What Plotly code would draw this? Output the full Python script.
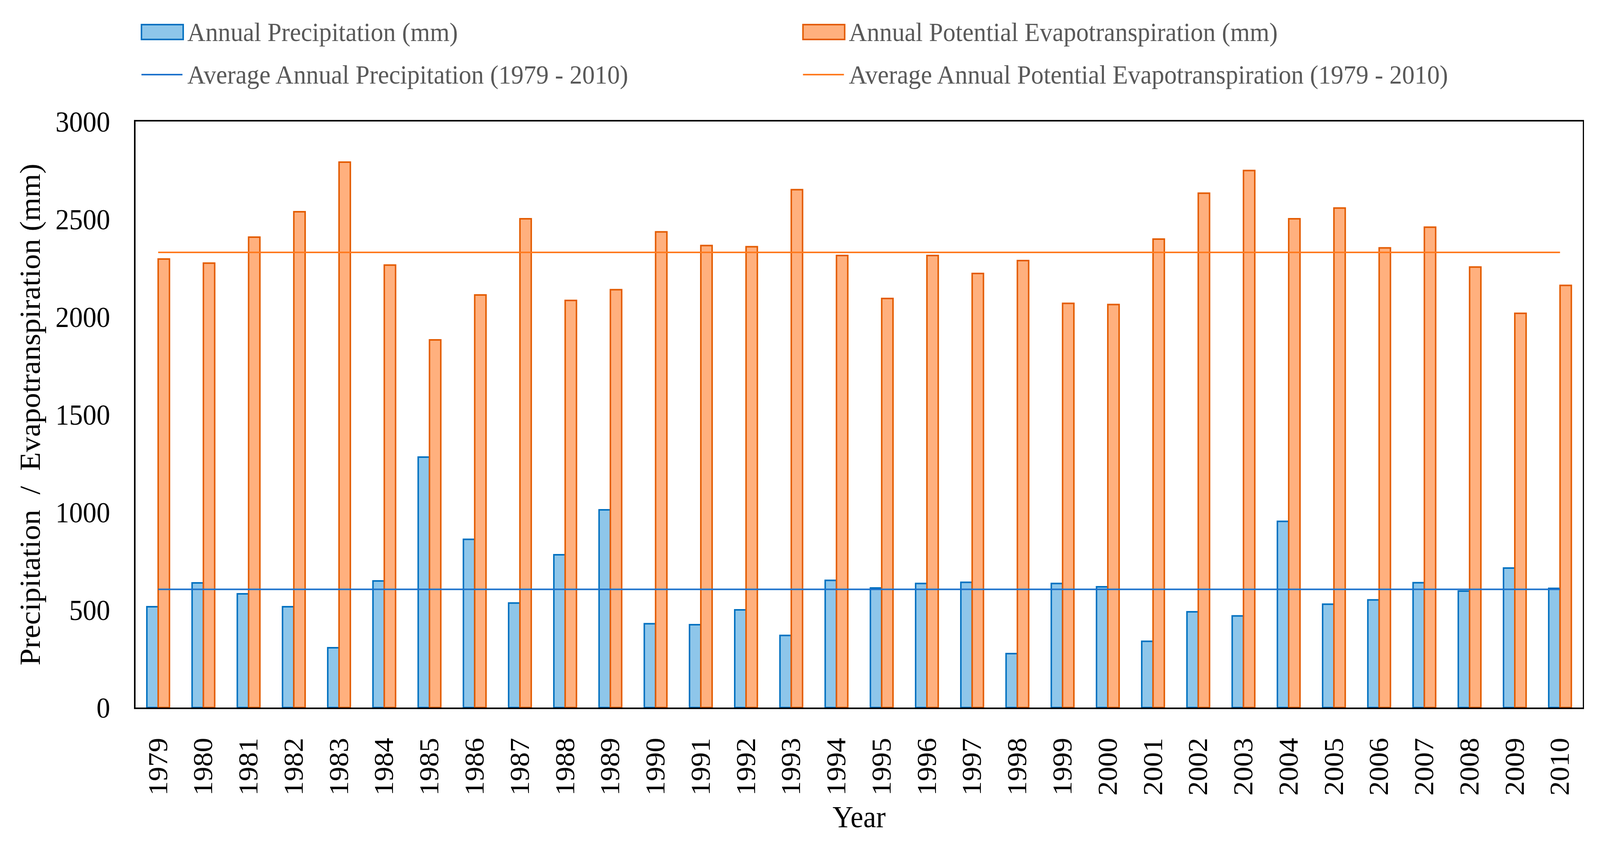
import plotly.graph_objects as go

# ---- data ----
years = [str(y) for y in range(1979, 2011)]
precipitation = [516, 638, 582, 516, 306, 648, 1282, 861, 535, 782, 1012, 429, 424, 500, 369, 651,
                 612, 635, 641, 276, 635, 618, 339, 490, 469, 953, 529, 551, 639, 596, 714, 610]
pet = [2296, 2275, 2408, 2538, 2792, 2265, 1882, 2112, 2502, 2084, 2139, 2435, 2365, 2359, 2651, 2314,
       2094, 2314, 2222, 2288, 2069, 2063, 2398, 2633, 2749, 2502, 2557, 2353, 2459, 2255, 2018, 2161]
avg_precipitation = 605
avg_pet = 2330
y_ticks = [0, 500, 1000, 1500, 2000, 2500, 3000]

names = ["Annual Precipitation (mm)",
         "Annual Potential Evapotranspiration (mm)",
         "Average Annual Precipitation (1979 - 2010)",
         "Average Annual Potential Evapotranspiration (1979 - 2010)"]

# ---- styling ----
W, H = 4332, 2168
L, R, T, B = 367, 47, 311, 357
FONT = "Liberation Serif"
BLUE_FILL, BLUE_LINE = "#8EC6EA", "#0070C0"
OR_FILL, OR_LINE = "#FFB07E", "#E35B00"
AVG_BLUE, AVG_OR = "#1C72CC", "#FF7A1F"

fig = go.Figure()
fig.add_trace(go.Bar(x=years, y=precipitation, name=names[0],
                     marker=dict(color=BLUE_FILL, line=dict(color=BLUE_LINE, width=4)),
                     showlegend=False))
fig.add_trace(go.Bar(x=years, y=pet, name=names[1],
                     marker=dict(color=OR_FILL, line=dict(color=OR_LINE, width=4)),
                     showlegend=False))
fig.add_trace(go.Scatter(x=[years[0], years[-1]], y=[avg_precipitation, avg_precipitation],
                         mode="lines", name=names[2], line=dict(color=AVG_BLUE, width=4),
                         showlegend=False))
fig.add_trace(go.Scatter(x=[years[0], years[-1]], y=[avg_pet, avg_pet],
                         mode="lines", name=names[3], line=dict(color=AVG_OR, width=4),
                         showlegend=False))

# ---- manual legend (pixel positions converted to paper coords) ----
def px_x(px):
    return (px - L) / (W - L - R)

def px_y(py):
    return (H - B - py) / (H - T - B)

shapes = []
annotations = []
legend_cols = [383, 2174]
legend_rows = [82, 191]
items = [(0, 0, "bar", BLUE_FILL, BLUE_LINE),
         (0, 1, "bar", OR_FILL, OR_LINE),
         (1, 0, "line", None, AVG_BLUE),
         (1, 1, "line", None, AVG_OR)]
for k, (row, col, kind, fill, line) in enumerate(items):
    x0 = legend_cols[col]
    yc = legend_rows[row]
    if kind == "bar":
        shapes.append(dict(type="rect", xref="paper", yref="paper",
                           x0=px_x(x0), x1=px_x(x0 + 113), y0=px_y(yc + 19), y1=px_y(yc - 19),
                           fillcolor=fill, line=dict(color=line, width=4)))
    else:
        shapes.append(dict(type="line", xref="paper", yref="paper",
                           x0=px_x(x0), x1=px_x(x0 + 111), y0=px_y(yc), y1=px_y(yc),
                           line=dict(color=line, width=4)))
    annotations.append(dict(xref="paper", yref="paper", x=px_x(x0 + 122), y=px_y(yc),
                            xanchor="left", yanchor="middle", showarrow=False,
                            text=names[k],
                            font=dict(family=FONT, size=68, color="#595959")))

fig.update_layout(
    width=W, height=H, autosize=False,
    margin=dict(l=L, r=R, t=T, b=B),
    paper_bgcolor="white", plot_bgcolor="white",
    barmode="group", bargap=0.5, bargroupgap=0,
    font=dict(family=FONT, color="black"),
    shapes=shapes, annotations=annotations,
    xaxis=dict(type="category", tickangle=-90, showgrid=False, ticks="",
               tickfont=dict(family=FONT, size=74, color="black"),
               ticklabelstandoff=44,
               showline=True, linecolor="black", linewidth=4, mirror=True,
               title=dict(text="Year", font=dict(family=FONT, size=78, color="black"), standoff=28)),
    yaxis=dict(range=[0, 3000], tickvals=y_ticks, showgrid=False, zeroline=False, ticks="",
               tickfont=dict(family=FONT, size=74, color="black"),
               ticklabelstandoff=50,
               showline=True, linecolor="black", linewidth=4, mirror=True,
               title=dict(text="Precipitation  /  Evapotranspiration (mm)",
                          font=dict(family=FONT, size=78, color="black"), standoff=17)),
)

# fit the fixed-size figure into the browser viewport
fit_js = """
(function(){
  var gd = document.getElementById('{plot_id}');
  document.documentElement.style.margin = '0';
  document.documentElement.style.overflow = 'hidden';
  document.body.style.margin = '0';
  document.body.style.overflow = 'hidden';
  var vw = window.innerWidth, vh = window.innerHeight;
  var sx = vw / %d, sy = vh / %d;
  var wrap = gd.parentElement;
  wrap.style.width = vw + 'px';
  wrap.style.height = vh + 'px';
  wrap.style.overflow = 'hidden';
  gd.style.transformOrigin = '0 0';
  gd.style.transform = 'scale(' + sx + ',' + sy + ')';
})();
""" % (W, H)

fig.write_html("out.html", post_script=fit_js, config={"displayModeBar": False})
